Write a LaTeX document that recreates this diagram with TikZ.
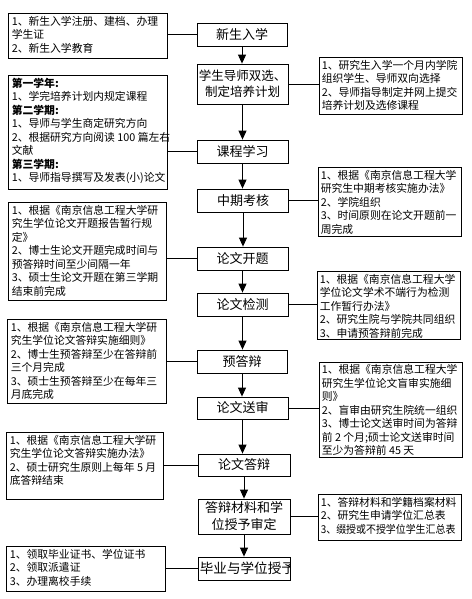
\documentclass[tikz,border=0pt]{standalone}
\usepackage{fontspec}
\setmainfont{Noto Sans CJK SC}
\usetikzlibrary{arrows.meta}
\tikzset{
  mbox/.style={draw, line width=0.8pt, minimum width=91pt, minimum height=23pt, inner sep=0pt,
    align=center, font=\fontsize{13}{16}\selectfont},
  sbox/.style={draw, line width=0.8pt, inner sep=0pt},
  stext/.style={anchor=north west, inner sep=0pt, align=left, font=\fontsize{10.8}{13.5}\selectfont},
  conn/.style={line width=0.8pt},
  flow/.style={line width=0.9pt, -{Triangle[length=9pt,width=8pt]}},
}
\begin{document}
\begin{tikzpicture}[x=1pt,y=-1pt]
\useasboundingbox[fill=white] (0,0) rectangle (471,599);

% middle column
\node[mbox, minimum width=90pt] (m1) at (242,34.5) {新生入学};
\node[mbox, minimum height=40pt, font=\fontsize{12.5}{16}\selectfont] (m2) at (242.5,84) {学生导师双选、\\制定培养计划};
\node[mbox] (m3) at (242.5,151.5) {课程学习};
\node[mbox] (m4) at (243,200.5) {中期考核};
\node[mbox] (m5) at (242.5,258.5) {论文开题};
\node[mbox] (m6) at (242.5,304.5) {论文检测};
\node[mbox, minimum width=90pt] (m7) at (242,361.5) {预答辩};
\node[mbox, minimum height=22pt] (m8) at (242.5,408) {论文送审};
\node[mbox, minimum width=92pt, minimum height=22pt] (m9) at (244,465) {论文答辩};
\node[mbox, minimum width=92pt, minimum height=35pt, font=\fontsize{13}{17}\selectfont] (m10) at (244,516.5) {答辩材料和学\\位授予审定};
\node[mbox, minimum width=92pt] (m11) at (244,568.5) {};
\begin{scope}
  \clip (m11.south west) rectangle (m11.north east);
  \node[anchor=west, inner sep=0pt, font=\fontsize{13.6}{16}\selectfont] (m11t) at ([xshift=2pt]m11.west) {毕业与学位授予};
\end{scope}

% arrows
\draw[flow] (m1.south) -- (m1.south |- m2.north);
\draw[flow] (m2.south) -- (m2.south |- m3.north);
\draw[flow] (m3.south) -- (m3.south |- m4.north);
\draw[flow] (m4.south) -- (m4.south |- m5.north);
\draw[flow] (m5.south) -- (m5.south |- m6.north);
\draw[flow] (m6.south) -- (m6.south |- m7.north);
\draw[flow] (m7.south) -- (m7.south |- m8.north);
\draw[flow] (m8.south) -- (m8.south |- m9.north);
\draw[flow] (m9.south) -- (m9.south |- m10.north);
\draw[flow] (m10.south) -- (m10.south |- m11.north);

% left boxes
\node[sbox, minimum width=159pt, minimum height=45pt] (l1) at (87.5,35.5) {};
\node[stext] at ([shift={(4,3.5)}]l1.north west) {1、新生入学注册、建档、办理\\学生证\\2、新生入学教育};

\node[sbox, minimum width=159pt, minimum height=114pt] (l2) at (87.5,132) {};
\node[stext] at ([shift={(4,3)}]l2.north west) {\textbf{第一学年:}\\1、学完培养计划内规定课程\\\textbf{第二学期:}\\1、导师与学生商定研究方向\\2、根据研究方向阅读 100 篇左右\\文献\\\textbf{第三学期:}\\1、导师指导撰写及发表(小)论文};

\node[sbox, minimum width=158pt, minimum height=98pt] (l3) at (87,251) {};
\node[stext] at ([shift={(4,3.5)}]l3.north west) {1、根据《南京信息工程大学研\\究生学位论文开题报告暂行规\\定》\\2、博士生论文开题完成时间与\\预答辩时间至少间隔一年\\3、硕士生论文开题在第三学期\\结束前完成};

\node[sbox, minimum width=159pt, minimum height=84pt] (l4) at (86.5,361) {};
\node[stext] at ([shift={(4,3.5)}]l4.north west) {1、根据《南京信息工程大学研\\究生学位论文答辩实施细则》\\2、博士生预答辩至少在答辩前\\三个月完成\\3、硕士生预答辩至少在每年三\\月底完成};

\node[sbox, minimum width=157pt, minimum height=67pt] (l5) at (84.5,465.5) {};
\node[stext] at ([shift={(4,3.5)}]l5.north west) {1、根据《南京信息工程大学研\\究生学位论文答辩实施办法》\\2、硕士研究生原则上每年 5 月\\底答辩结束};

\node[sbox, minimum width=159pt, minimum height=45pt] (l6) at (85.5,568.5) {};
\node[stext] at ([shift={(4,3.5)}]l6.north west) {1、领取毕业证书、学位证书\\2、领取派遣证\\3、办理离校手续};

% right boxes
\node[sbox, minimum width=143pt, minimum height=57pt] (r1) at (390.5,85.5) {};
\node[stext] at ([shift={(3,3.5)}]r1.north west) {1、研究生入学一个月内学院\\组织学生、导师双向选择\\2、导师指导制定并网上提交\\培养计划及选修课程};

\node[sbox, minimum width=143pt, minimum height=69pt] (r2) at (389.5,201.5) {};
\node[stext] at ([shift={(3,3.5)}]r2.north west) {1、根据《南京信息工程大学\\研究生中期考核实施办法》\\2、学院组织\\3、时间原则在论文开题前一\\周完成};

\node[sbox, minimum width=143pt, minimum height=68pt] (r3) at (388.5,305) {};
\node[stext] at ([shift={(3,3.5)}]r3.north west) {1、根据《南京信息工程大学\\学位论文学术不端行为检测\\工作暂行办法》\\2、研究生院与学院共同组织\\3、申请预答辩前完成};

\node[sbox, minimum width=143pt, minimum height=95pt] (r4) at (390.5,409.5) {};
\node[stext] at ([shift={(3,3)}]r4.north west) {1、根据《南京信息工程大学\\研究生学位论文盲审实施细\\则》\\2、盲审由研究生院统一组织\\3、博士论文送审时间为答辩\\前 2 个月;硕士论文送审时间\\至少为答辩前 45 天};

\node[sbox, minimum width=143pt, minimum height=46pt] (r5) at (389.5,517) {};
\node[stext] at ([shift={(3,3.5)}]r5.north west) {1、答辩材料和学籍档案材料\\2、研究生申请学位汇总表\\\scalebox{0.92}[1]{3、缀授或不授学位学生汇总表}};

% connectors
\draw[conn] (m1.west) -- (m1.west -| l1.east);
\draw[conn] (m3.west) -- (m3.west -| l2.east);
\draw[conn] (m5.west) -- (m5.west -| l3.east);
\draw[conn] (m7.west) -- (m7.west -| l4.east);
\draw[conn] (m9.west) -- (m9.west -| l5.east);
\draw[conn] (m11.west) -- (m11.west -| l6.east);
\draw[conn] (m2.east) -- (m2.east -| r1.west);
\draw[conn] (m4.east) -- (m4.east -| r2.west);
\draw[conn] (m6.east) -- (m6.east -| r3.west);
\draw[conn] (m8.east) -- (m8.east -| r4.west);
\draw[conn] (m10.east) -- (m10.east -| r5.west);
\end{tikzpicture}
\end{document}
